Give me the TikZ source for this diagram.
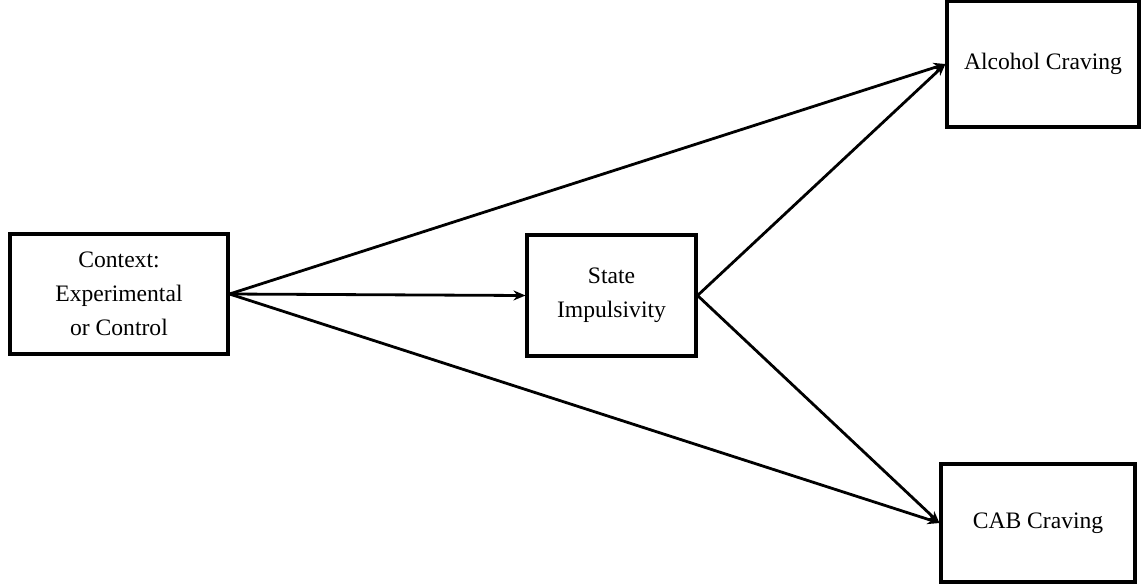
\documentclass[tikz,border=0pt]{standalone}
\usepackage{fontspec}
\setmainfont{Liberation Serif}
\usepackage{tikz}
\usetikzlibrary{shapes, arrows, arrows.meta, calc, positioning}

\begin{document}
\begin{tikzpicture}[x=0.75pt, y=-0.75pt, arrow/.style = {line width=2.1pt,-{Stealth[length=9pt, width=7.5pt]}}]
		\tikzset{box/.style={draw=black, rectangle, line width=2.3pt, inner sep=0pt, align=center, font=\fontsize{17.7}{25.5}\selectfont}}

		\useasboundingbox (0,0) rectangle (1141,583);

		% Predictor
		\node[box, minimum width=163.5pt, minimum height=90pt] (context) at (119,294) {Context:\\Experimental\\or Control};

		% Mediator
		\node[box, minimum width=126.75pt, minimum height=90.75pt] (impulsivity) at (611.5,295.5) {State\\Impulsivity};

		% Outcomes
		\node[box, minimum width=144pt, minimum height=94.5pt] (alcohol) at (1043,64) {Alcohol Craving};

		\node[box, minimum width=145.5pt, minimum height=88.5pt] (cab) at (1038,523) {CAB Craving};

		% Arrows
		\draw [arrow] (context.east) -- (impulsivity.west);
		\draw [arrow] (context.east) -- (alcohol.west);
		\draw [arrow] (context.east) -- (cab.west);
		\draw [arrow] (impulsivity.east) -- (alcohol.west);
		\draw [arrow] (impulsivity.east) -- (cab.west);

	\end{tikzpicture}
\end{document}
